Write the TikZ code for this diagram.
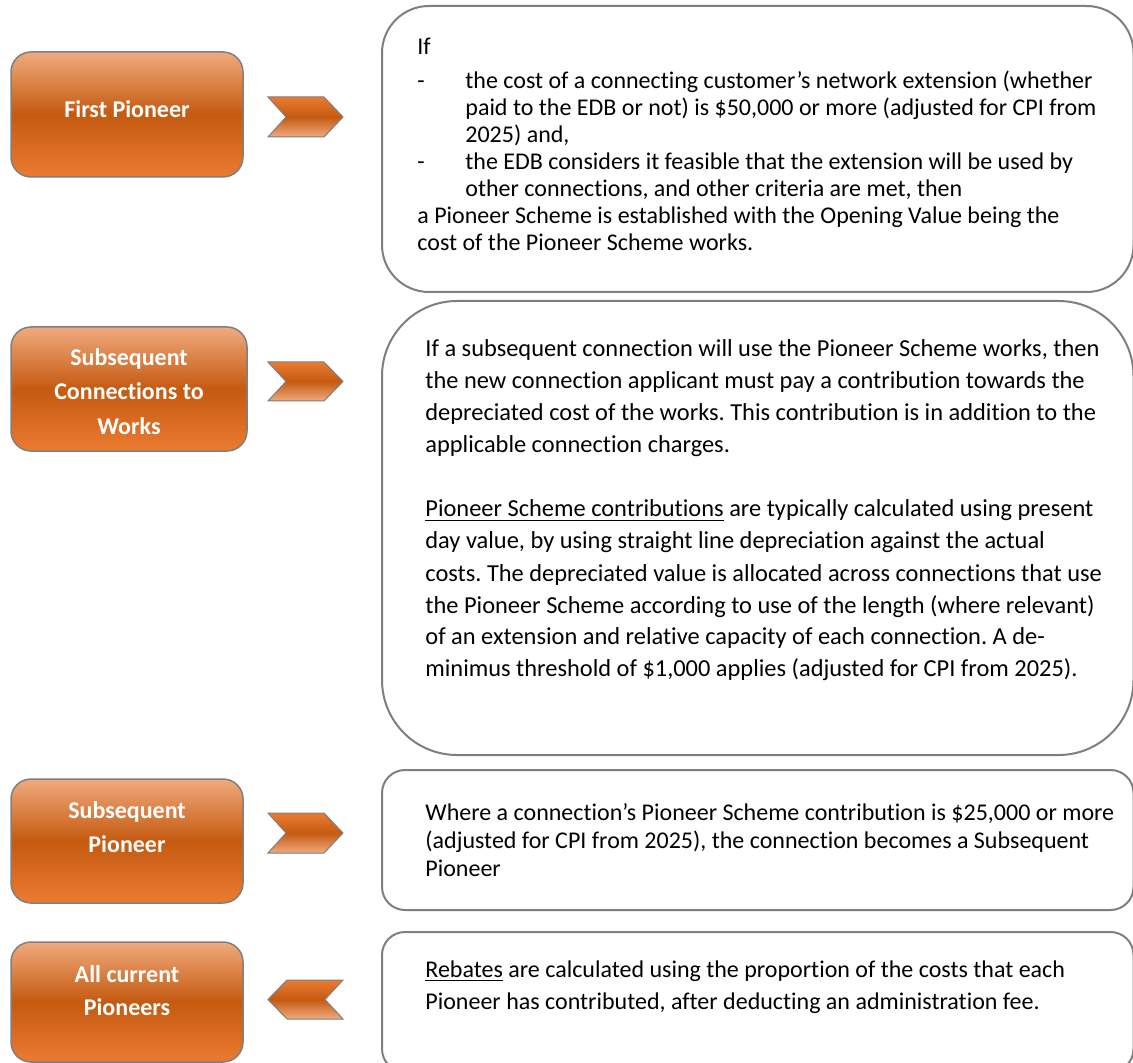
\documentclass[tikz,border=0pt]{standalone}
\usepackage{fontspec}
\setmainfont{Carlito}[Ligatures=NoCommon]
\frenchspacing
\definecolor{otop}{HTML}{F0AA7D}
\definecolor{omid}{HTML}{C55A11}
\definecolor{obot}{HTML}{EB7B31}
\definecolor{oline}{HTML}{7F7F7F}
\newcommand\tline[1]{\hbox{#1}}
\newcommand\cenline[1]{\hbox to 0pt{\hss#1\hss}}
\newcommand\stack[2]{\vtop{\baselineskip=#1\relax #2}}
\tikzset{
  obox/.style={draw=oline, line width=0.75pt, rounded corners=10pt,
    top color=otop, bottom color=obot, middle color=omid},
  chev/.style={draw=oline, line width=0.5pt, line join=miter,
    top color=obot, bottom color=otop, middle color=omid},
  tbox/.style={draw=oline, line width=1pt, fill=white},
  otext/.style={inner sep=0pt, anchor=base, text=white,
    font=\fontsize{12}{17}\selectfont\bfseries},
  btext/.style={inner sep=0pt, anchor=base west, text=black,
    font=\fontsize{12}{14}\selectfont},
}
\begin{document}
\begin{tikzpicture}[x=0.5pt, y=-0.5pt]
\useasboundingbox (0,0) rectangle (1133,1063);
\clip (0,0) rectangle (1133,1063);
\fill[white] (0,0) rectangle (1133,1063);

% orange boxes
\path[obox] (11,52) rectangle (243,177);
\path[obox] (11,327) rectangle (247,451);
\path[obox] (11,779) rectangle (243,903);
\path[obox] (11,942) rectangle (243,1062);

\node[otext] (o1) at (127,118) {\stack{17pt}{\cenline{First Pioneer}}};
\node[otext] (o2) at (129,366) {\stack{17pt}{\cenline{Subsequent}\cenline{Connections to}\cenline{Works}}};
\node[otext] (o3) at (127,818) {\stack{17pt}{\cenline{Subsequent}\cenline{Pioneer}}};
\node[otext] (o4) at (127,982) {\stack{16.5pt}{\cenline{All current}\cenline{Pioneers}}};

% chevrons
\path[chev] (268,97) -- (324,97) -- (343,117) -- (324,137) -- (268,137) -- (286,117) -- cycle;
\path[chev] (268,362) -- (324,362) -- (343,381.5) -- (324,401) -- (268,401) -- (286,381.5) -- cycle;
\path[chev] (268,813) -- (324,813) -- (343,833) -- (324,853) -- (268,853) -- (286,833) -- cycle;
\path[chev] (287,980) -- (343,980) -- (325,999.5) -- (343,1019) -- (287,1019) -- (268,999.5) -- cycle;

% text boxes
\path[tbox, rounded corners=23.5pt] (382,6) rectangle (1133.5,292);
\path[tbox, rounded corners=37.5pt] (382,301) rectangle (1133.5,755);
\path[tbox, rounded corners=11.5pt] (382,770) rectangle (1133.5,910);
\path[tbox, rounded corners=11.5pt] (382,932) rectangle (1133.5,1072);

\node[btext] (t1) at (417,55) {\stack{13.5pt}{%
\tline{If}\vskip 3.5pt
\tline{\makebox[24pt][l]{-}the cost of a connecting customer’s network extension (whether}%
\tline{\hspace*{24pt}paid to the EDB or not) is \$50,000 or more (adjusted for CPI from}%
\tline{\hspace*{24pt}2025) and,}%
\tline{\makebox[24pt][l]{-}the EDB considers it feasible that the extension will be used by}%
\tline{\hspace*{24pt}other connections, and other criteria are met, then}%
\tline{a Pioneer Scheme is established with the Opening Value being the}%
\tline{cost of the Pioneer Scheme works.}}};

\node[btext, font=\fontsize{12.2}{16}\selectfont] (t2) at (425,357) {\stack{16pt}{%
\tline{If a subsequent connection will use the Pioneer Scheme works, then}%
\tline{the new connection applicant must pay a contribution towards the}%
\tline{depreciated cost of the works. This contribution is in addition to the}%
\tline{applicable connection charges.}%
\tline{}%
\tline{\underline{Pioneer Scheme contributions} are typically calculated using present}%
\tline{day value, by using straight line depreciation against the actual}%
\tline{costs. The depreciated value is allocated across connections that use}%
\tline{the Pioneer Scheme according to use of the length (where relevant)}%
\tline{of an extension and relative capacity of each connection. A de-}%
\tline{minimus threshold of \$1,000 applies (adjusted for CPI from 2025).}}};

\node[btext] (t3) at (425,820) {\stack{14pt}{%
\tline{Where a connection’s Pioneer Scheme contribution is \$25,000 or more}%
\tline{(adjusted for CPI from 2025), the connection becomes a Subsequent}%
\tline{Pioneer}}};

\node[btext] (t4) at (425,977) {\stack{16pt}{%
\tline{\underline{Rebates} are calculated using the proportion of the costs that each}%
\tline{Pioneer has contributed, after deducting an administration fee.}}};
\end{tikzpicture}
\end{document}
